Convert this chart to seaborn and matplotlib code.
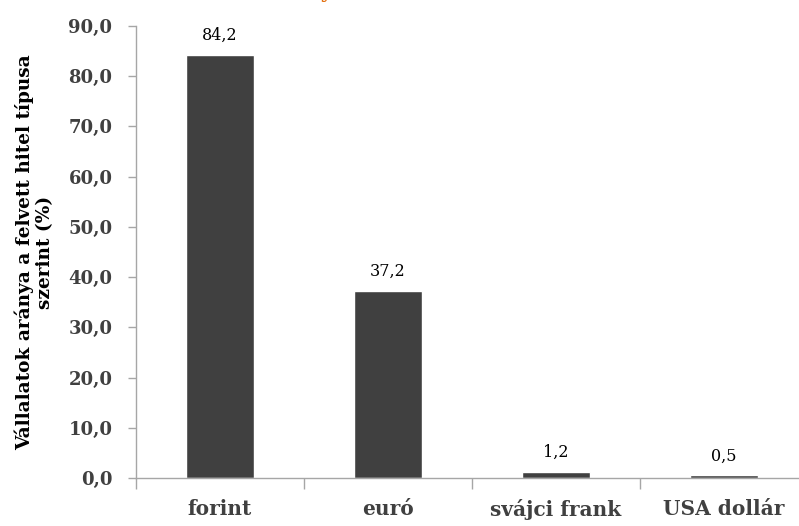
import matplotlib
matplotlib.use("Agg")
import matplotlib.pyplot as plt
import pandas as pd
import seaborn as sns

# data
categories = ["forint", "euró", "svájci frank", "USA dollár"]
shares = [84.2, 37.2, 1.2, 0.5]
y_ticks = [0, 10, 20, 30, 40, 50, 60, 70, 80, 90]
y_label = "Vállalatok aránya a felvett hitel típusa\nszerint (%)"

sns.set_style("white")
plt.rcParams["font.family"] = ["DejaVu Serif"]

df = pd.DataFrame({"penznem": categories, "arany": shares})

fig = plt.figure(figsize=(7.99, 5.26), dpi=100)
# plot area runs past the right edge, like the cropped original
ax = fig.add_axes([136 / 799, 1 - 478 / 526, 672 / 799, 452 / 526])

sns.barplot(data=df, x="penznem", y="arany", color="#404040", width=0.4,
            saturation=1, ax=ax)

ax.set_xlim(-0.5, len(categories) - 0.5)
ax.set_ylim(0, 90)
ax.set_yticks(y_ticks)
ax.set_yticklabels([f"{t:.1f}".replace(".", ",") for t in y_ticks],
                   fontsize=13, fontweight="bold", color="#404040")
ax.set_xticks([i - 0.5 for i in range(len(categories) + 1)], minor=False)
ax.set_xticklabels([""] * (len(categories) + 1))
ax.set_xticks(range(len(categories)), minor=True)
ax.set_xticklabels(categories, minor=True, fontsize=14.5, fontweight="bold",
                   color="#404040")
ax.tick_params(axis="x", which="major", direction="out", length=8,
               width=1, color="#a6a6a6", bottom=True)
ax.tick_params(axis="x", which="minor", length=0, pad=15)
ax.tick_params(axis="y", direction="out", length=6, width=1,
               color="#a6a6a6", left=True, pad=11)

for side in ["top", "right"]:
    ax.spines[side].set_visible(False)
for side in ["left", "bottom"]:
    ax.spines[side].set_color("#a6a6a6")
    ax.spines[side].set_linewidth(1)

for i, v in enumerate(shares):
    ax.annotate(f"{v:.1f}".replace(".", ","), (i, v), xytext=(0, 8),
                textcoords="offset points", ha="center", va="bottom",
                fontsize=11.5, color="black")

ax.set_xlabel("")
ax.set_ylabel(y_label, fontsize=13.3, fontweight="bold", labelpad=10,
              linespacing=1.15, color="black")

# tail of the cropped title at the top edge
fig.text(327 / 799, 1 + 3 / 526, "y", fontsize=16, color="#e36c0a",
         ha="center", va="baseline")

fig.savefig("out.png", dpi=100)
